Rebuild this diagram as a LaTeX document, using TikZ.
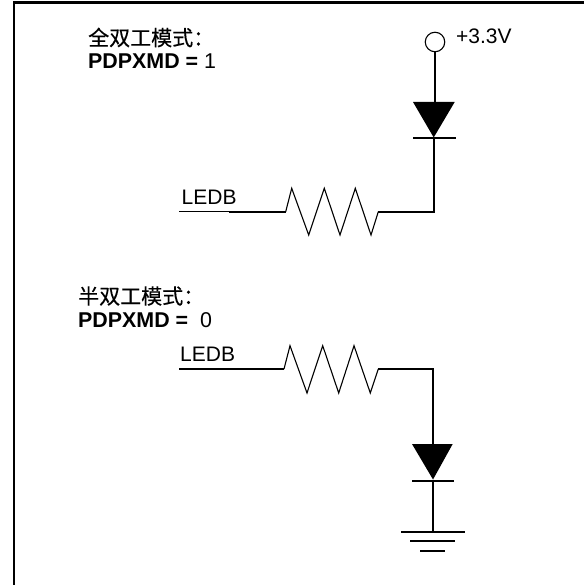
\documentclass[tikz,border=0pt]{standalone}
\usepackage{fontspec}
\setmainfont{Liberation Sans}
\newfontfamily\cjkf[FakeBold=0.4]{Noto Sans CJK SC}
\tikzset{
  wire/.style={line width=2pt},
  thinwire/.style={line width=1.1pt},
  framel/.style={line width=2.4pt},
  zig/.style={line width=1.1pt,line join=miter},
  lbl/.style={inner sep=0pt,anchor=base west,font=\fontsize{21}{24}\selectfont},
  cjklbl/.style={inner sep=0pt,anchor=west,font=\fontsize{21}{24}\selectfont\cjkf},
  boldlbl/.style={inner sep=0pt,anchor=base west,font=\fontsize{21.4}{24}\selectfont\bfseries}
}
\begin{document}
\begin{tikzpicture}[x=1pt,y=-1pt]
\useasboundingbox (0,0) rectangle (584,585);
% frame
\coordinate (fa) at (13.7,585);
\coordinate (fb) at (13.7,2.5);
\coordinate (fc) at (584,2.5);
\draw[framel,line join=miter] (fa) -- (fb) -- (fc);
% labels
\node[cjklbl] (t1) at (88,37.5) {全双工模式：};
\node[boldlbl] (p1) at (88,68.3) {PDPXMD = \textmd{1}};
\node[cjklbl] (t2) at (78,296) {半双工模式：};
\node[boldlbl] (p2) at (78,327.7) {PDPXMD =  \textmd{\ 0}};
\node[lbl] (v) at (456,44) {+3.3V};
\node[lbl] (l1) at (181.5,204.7) {LEDB};
\node[lbl] (l2) at (180,361) {LEDB};
% upper circuit
\node[circle,draw,line width=1.1pt,minimum size=19.5pt,inner sep=0pt] (vcc) at (435,42) {};
\coordinate (d1top) at (435,102);
\coordinate (d1apex) at (433.7,137.5);
\coordinate (d1l) at (413,102);
\coordinate (d1r) at (454.7,102);
\coordinate (b1l) at (413,137.7);
\coordinate (b1r) at (456,137.7);
\coordinate (corner1) at (433.7,211.7);
\coordinate (w1a) at (179.3,211.7);
\coordinate (w1b) at (229,211.7);
\coordinate (r1a) at (285.7,211.7);
\coordinate (r1b) at (378.3,211.7);
\draw[wire] (vcc.south) -- (d1top);
\fill (d1l) -- (d1r) -- (d1apex) -- cycle;
\draw[wire] (b1l) -- (b1r);
\draw[wire,line join=miter] (d1apex) -- (corner1) -- (r1b);
\draw[thinwire] (w1a) -- (w1b);
\draw[wire] (w1b) -- (r1a);
\draw[zig] (r1a) -- (291.7,188.3) -- (308.7,235) -- (324.3,188.3) -- (340,235) -- (355.3,188.3) -- (371,235) -- (r1b);
% lower circuit
\coordinate (w2a) at (179,369);
\coordinate (w2b) at (228,369);
\coordinate (r2a) at (284,369);
\coordinate (r2b) at (378.3,369);
\coordinate (corner2) at (433,369);
\coordinate (d2l) at (412,444);
\coordinate (d2r) at (452.7,444);
\coordinate (d2top) at (433,444);
\coordinate (d2apex) at (433,479.5);
\coordinate (b2l) at (412,481);
\coordinate (b2r) at (454,481);
\coordinate (gnd) at (433,531.7);
\draw[thinwire] (w2a) -- (w2b);
\draw[wire] (w2b) -- (r2a);
\draw[zig] (r2a) -- (290,345.7) -- (307,393) -- (322.7,345.7) -- (338.7,393) -- (354,345.7) -- (370.3,393) -- (r2b);
\draw[wire,line join=miter] (r2b) -- (corner2) -- (d2top);
\fill (d2l) -- (d2r) -- (d2apex) -- cycle;
\draw[wire] (b2l) -- (b2r);
\draw[wire] (d2apex) -- (gnd);
\coordinate (g1l) at (401,531.7);
\coordinate (g1r) at (465,531.7);
\coordinate (g2l) at (410,540.7);
\coordinate (g2r) at (455,540.7);
\coordinate (g3l) at (420,550.7);
\coordinate (g3r) at (445,550.7);
\draw[wire] (g1l) -- (g1r);
\draw[wire] (g2l) -- (g2r);
\draw[wire] (g3l) -- (g3r);
\end{tikzpicture}
\end{document}
